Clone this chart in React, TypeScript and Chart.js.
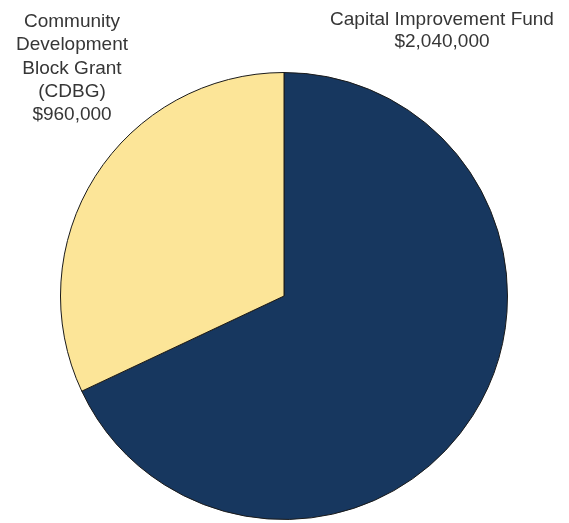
import React, { useEffect, useRef } from "react";
import { Chart, registerables } from "chart.js";

Chart.register(...registerables);

const categories = ["Capital Improvement Fund", "Community Development Block Grant (CDBG)"];
const values = [2040000, 960000];
const colors = ["#17375F", "#FCE598"];
const labelLines = [
  ["Capital Improvement Fund", "$2,040,000"],
  ["Community", "Development", "Block Grant", "(CDBG)", "$960,000"],
];

const labelPlugin = {
  id: "outerLabels",
  afterDraw(chart: any) {
    const ctx = chart.ctx;
    ctx.save();
    ctx.fillStyle = "#363636";
    ctx.font = "19px 'Liberation Sans', Arial, sans-serif";
    ctx.textAlign = "center";
    ctx.textBaseline = "alphabetic";
    // right label (first category)
    const r = labelLines[0];
    r.forEach((t, i) => ctx.fillText(t, 442, 25 + i * 22));
    const l = labelLines[1];
    l.forEach((t, i) => ctx.fillText(t, 72, 27 + i * 23.3));
    ctx.restore();
  },
};

export default function App() {
  const ref = useRef<HTMLCanvasElement>(null);
  useEffect(() => {
    if (!ref.current) return;
    const chart = new Chart(ref.current, {
      type: "pie",
      data: {
        labels: categories,
        datasets: [
          {
            data: values,
            backgroundColor: colors,
            borderColor: "#1a1a1a",
            borderWidth: 1,
            hoverOffset: 0,
          },
        ],
      },
      options: {
        animation: false,
        responsive: false,
        maintainAspectRatio: false,
        layout: { padding: { left: 60, right: 61, top: 72, bottom: 3 } },
        plugins: { legend: { display: false }, tooltip: { enabled: false } },
      },
      plugins: [labelPlugin],
    });
    return () => chart.destroy();
  }, []);
  return (
    <div style={{ position: "absolute", left: 0, top: 0, width: 569, height: 523, background: "#fff" }}>
      <canvas ref={ref} width={569} height={523} style={{ width: 569, height: 523 }} />
    </div>
  );
}
